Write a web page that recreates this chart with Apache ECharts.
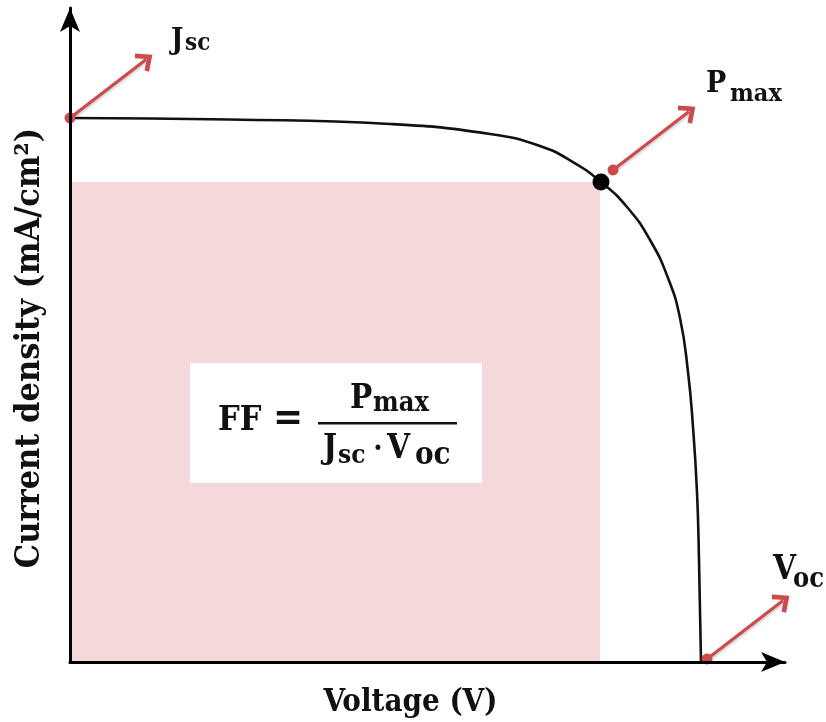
<!DOCTYPE html>
<html>
<head>
<meta charset="utf-8">
<script src="https://cdn.jsdelivr.net/npm/echarts@6/dist/echarts.min.js"></script>
<style>html,body{margin:0;padding:0;background:#fff}#c{width:826px;height:722px}</style>
</head>
<body>
<div id="c"></div>
<script>
// ---- data (arbitrary units, Voc = 1, Jsc = 1) ----
const voltage = [0, 0.2536, 0.5071, 0.6656, 0.7448, 0.7971, 0.8415, 0.8827, 0.9192, 0.9477, 0.9667, 0.9794, 0.9873, 0.9937, 0.9968, 1.0];
const current = [1.0, 0.9972, 0.9890, 0.9706, 0.9485, 0.9191, 0.8824, 0.8364, 0.7757, 0.7059, 0.6324, 0.5331, 0.4320, 0.3107, 0.1875, 0];
const jsc = [0, 1.0];
const pmax = [0.8415, 0.8824];
const voc = [1.0, 0];
const xName = 'Voltage (V)';
const yName = 'Current density (mA/cm²)';

// ---- styles ----
const FONT = '"DejaVu Serif Condensed", "DejaVu Serif", serif';
const RED = '#cc4a4b';
const PINK = '#f5d8d9';
const AX = 1.1331, AY = 1.2022;
const ADX = 0.1205, ADY = 0.1075; // arrow vector in data units
const chevron = 'path://M50,0 L100,70 L84,86 L50,38 L16,86 L0,70 Z';
const pStart = [pmax[0] + 0.019, pmax[1] + 0.022];
const vStart = [voc[0] + 0.0095, voc[1] + 0.0055];

const chart = echarts.init(document.getElementById('c'), null, {renderer: 'canvas'});

function arrow(start) {
  return [
    {coord: start, symbol: 'circle', symbolSize: 11},
    {coord: [start[0] + ADX, start[1] + ADY], symbol: chevron, symbolSize: [23, 16]}
  ];
}

const axisCommon = {
  type: 'value', z: 10,
  splitLine: {show: false}, axisTick: {show: false}, axisLabel: {show: false},
  nameLocation: 'middle',
  axisLine: {show: true, symbol: ['none', 'arrow'], symbolSize: [15, 24], lineStyle: {color: '#000', width: 3}}
};

chart.setOption({
  animation: false,
  grid: {left: 70, right: 41, top: 8, bottom: 60, containLabel: false, outerBoundsMode: 'none'},
  xAxis: Object.assign({}, axisCommon, {min: 0, max: AX, name: xName, nameGap: 25,
    nameTextStyle: {fontFamily: FONT, fontWeight: 'bold', fontSize: 31, color: '#111', padding: [0, 34, 0, 0]}}),
  yAxis: Object.assign({}, axisCommon, {min: 0, max: AY, name: yName, nameGap: 23,
    nameTextStyle: {fontFamily: FONT, fontWeight: 'bold', fontSize: 34, color: '#111', padding: [0, 26, 0, 0]}}),
  series: [
    {
      type: 'line', data: voltage.map((v, i) => [v, current[i]]),
      smooth: 0.5, showSymbol: false, z: 3,
      lineStyle: {color: '#111', width: 2.6},
      markArea: {silent: true, itemStyle: {color: PINK}, data: [[{coord: [0, 0]}, {coord: [0.84, pmax[1]]}]]}
    },
    {
      type: 'scatter', data: [pmax], symbolSize: 17, z: 5,
      itemStyle: {color: '#000', opacity: 1}
    },
    {
      type: 'line', data: [], z: 6, clip: false,
      markLine: {
        silent: true, animation: false,
        label: {show: false},
        lineStyle: {color: RED, width: 3, type: 'solid', shadowBlur: 3, shadowColor: 'rgba(0,0,0,0.25)', shadowOffsetX: 1, shadowOffsetY: 1},
        itemStyle: {color: RED},
        data: [arrow(jsc), arrow(pStart), arrow(vStart)]
      }
    }
  ]
});

function txt(x, base, s, size, align) {
  return {type: 'text', z: 20, style: {x: x, y: base - 0.32 * size, text: s, fill: '#111',
    font: 'bold ' + size + 'px ' + FONT, align: align || 'left', verticalAlign: 'middle'}};
}
function tipPx(start) {
  return chart.convertToPixel({gridIndex: 0}, [start[0] + ADX, start[1] + ADY]);
}
const tJ = tipPx(jsc), tP = tipPx(pStart), tV = tipPx(vStart);

chart.setOption({
  graphic: [
    txt(tJ[0] + 25, tJ[1] - 9, 'J', 29), txt(tJ[0] + 39, tJ[1] - 8, 'sc', 24),
    txt(tP[0] + 17, tP[1] - 18, 'P', 30), txt(tP[0] + 41, tP[1] - 9, 'max', 25),
    txt(tV[0] - 10, tV[1] - 20, 'V', 33), txt(tV[0] + 10, tV[1] - 12, 'oc', 27),
    {type: 'rect', z: 15, shape: {x: 190, y: 363, width: 292, height: 120}, style: {fill: '#fff'}},
    txt(218, 432, 'FF', 34),
    {type: 'text', z: 20, style: {x: 288, y: 420, text: '=', fill: '#111', font: 'bold 40px ' + FONT, align: 'center', verticalAlign: 'middle'}},
    {type: 'rect', z: 20, shape: {x: 318, y: 422, width: 139, height: 2.5}, style: {fill: '#111'}},
    txt(350, 410, 'P', 33), txt(373, 413, 'max', 27),
    txt(323, 460, 'J', 33), txt(338, 465, 'sc', 26),
    {type: 'text', z: 20, style: {x: 378, y: 450, text: '·', fill: '#111', font: 'bold 30px ' + FONT, align: 'center', verticalAlign: 'middle'}},
    txt(387, 460, 'V', 33), txt(415, 466, 'oc', 31)
  ]
});
</script>
</body>
</html>
